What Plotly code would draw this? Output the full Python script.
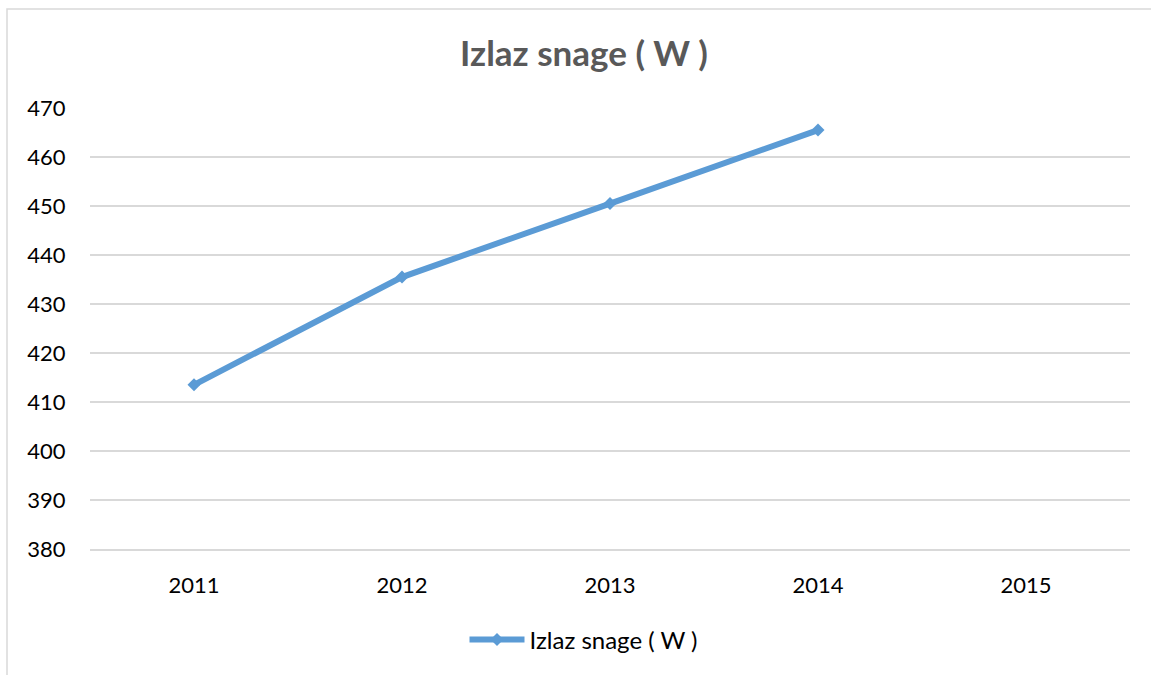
import plotly.graph_objects as go

years = ["2011", "2012", "2013", "2014", "2015"]
values = [413.5, 435.5, 450.5, 465.5, None]
series_name = "Izlaz snage ( W )"
y_ticks = [380, 390, 400, 410, 420, 430, 440, 450, 460, 470]

W, H = 1151, 675
L, R, T, B = 90, 21, 108, 126
pw, ph = W - L - R, H - T - B

fig = go.Figure()
fig.add_trace(go.Scatter(
    x=years, y=values, mode="lines+markers", name=series_name,
    line=dict(color="#5B9BD5", width=6),
    marker=dict(symbol="diamond", size=10, color="#5B9BD5"),
    connectgaps=False,
))

font_family = "Lato, Liberation Sans, sans-serif"

fig.update_layout(
    width=W, height=H,
    margin=dict(l=L, r=R, t=T, b=B),
    paper_bgcolor="white", plot_bgcolor="white",
    font=dict(family=font_family, size=22, color="#000000"),
    title=dict(text="<b>Izlaz snage ( W )</b>", x=584 / W, xref="container", xanchor="center",
               y=1 - 54 / H, yref="container", yanchor="middle",
               font=dict(size=35, color="#595959", family=font_family)),
    showlegend=True,
    legend=dict(orientation="h", x=(584 - L) / pw, xanchor="center",
                y=(549 - 640) / ph, yanchor="middle", itemwidth=55,
                font=dict(size=24, color="#000000"), bgcolor="rgba(0,0,0,0)"),
    xaxis=dict(type="category", categoryorder="array", categoryarray=years,
               range=[-0.5, 4.5], showgrid=False, zeroline=False,
               showline=True, linecolor="#D9D9D9", linewidth=1.5,
               ticks="outside", ticklen=16, tickcolor="rgba(0,0,0,0)",
               tickfont=dict(size=22, color="#000000")),
    yaxis=dict(range=[380, 470], tickvals=y_ticks, showgrid=True,
               gridcolor="#D9D9D9", gridwidth=1.5, zeroline=False, showline=False,
               ticks="outside", ticklen=19, tickcolor="rgba(0,0,0,0)",
               tickfont=dict(size=22, color="#000000")),
    shapes=[dict(type="rect", xref="paper", yref="paper",
                 x0=(7 - L) / pw, x1=(1170 - L) / pw,
                 y0=(549 - 700) / ph, y1=(549 - 9) / ph,
                 line=dict(color="#D9D9D9", width=1.5), fillcolor="rgba(0,0,0,0)",
                 layer="below")],
)

fig.write_html("out.html", config={"displayModeBar": False},
               post_script="document.body.style.margin='0';document.body.style.padding='0';")
